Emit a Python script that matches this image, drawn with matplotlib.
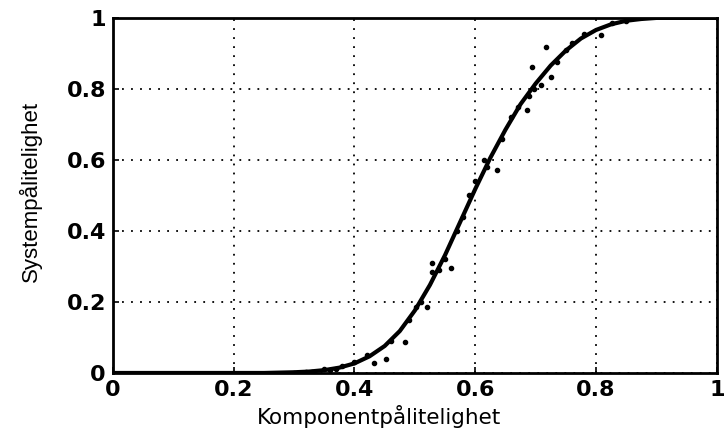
import numpy as np
import matplotlib
matplotlib.use("Agg")
import matplotlib.pyplot as plt

# Fitted curve
curve_x = [0.00, 0.25, 0.30, 0.325, 0.35, 0.375, 0.40, 0.425, 0.45, 0.475, 0.50, 0.525,
           0.55, 0.575, 0.60, 0.625, 0.65, 0.675, 0.70, 0.725, 0.75, 0.775, 0.80,
           0.825, 0.85, 0.875, 0.90, 1.00]
curve_y = [0.0, 0.0, 0.002, 0.004, 0.008, 0.015, 0.027, 0.047, 0.076, 0.118, 0.176, 0.248,
           0.332, 0.425, 0.518, 0.606, 0.685, 0.757, 0.815, 0.866, 0.908, 0.942, 0.966,
           0.982, 0.992, 0.997, 1.0, 1.0]

# Simulated observations (dots)
obs_x = [0.30, 0.32, 0.33, 0.35, 0.36, 0.37, 0.38, 0.40, 0.42, 0.433, 0.453, 0.46, 0.483,
         0.49, 0.502, 0.51, 0.52, 0.529, 0.529, 0.54, 0.55, 0.56, 0.57, 0.58, 0.59,
         0.60, 0.615, 0.62, 0.636, 0.645, 0.66, 0.67, 0.686, 0.689, 0.694, 0.697, 0.709,
         0.717, 0.726, 0.736, 0.75, 0.76, 0.78, 0.808, 0.826, 0.85]
obs_y = [0.0, 0.002, 0.003, 0.01, 0.008, 0.012, 0.02, 0.03, 0.05, 0.028, 0.039, 0.09, 0.087,
         0.15, 0.186, 0.2, 0.186, 0.31, 0.285, 0.29, 0.32, 0.296, 0.40, 0.44, 0.50,
         0.54, 0.60, 0.58, 0.572, 0.66, 0.72, 0.75, 0.741, 0.78, 0.862, 0.80, 0.811,
         0.918, 0.834, 0.876, 0.91, 0.93, 0.955, 0.952, 0.986, 0.99]

ticks = [0, 0.2, 0.4, 0.6, 0.8, 1]
tick_labels = ["0", "0.2", "0.4", "0.6", "0.8", "1"]

plt.rcParams['font.family'] = ['DejaVu Sans']

fig = plt.figure(figsize=(7.24, 4.37), dpi=100)
ax = fig.add_axes([0.156, 0.1465, 0.834, 0.8125])

ax.plot(obs_x, obs_y, '.', color='black', markersize=6)
ax.plot(curve_x, curve_y, '-', color='black', linewidth=3)

ax.set_xlim(0, 1)
ax.set_ylim(0, 1)
ax.set_xticks(ticks)
ax.set_yticks(ticks)
ax.set_xticklabels(tick_labels, fontsize=16, fontweight='bold')
ax.set_yticklabels(tick_labels, fontsize=16, fontweight='bold')
ax.tick_params(direction='in', length=4, width=1.2, pad=5)
ax.grid(True, linestyle=(0, (1, 4)), color='black', linewidth=1.3)
for s in ax.spines.values():
    s.set_linewidth(2)

ax.set_xlabel("Komponentpålitelighet", fontsize=15.5, labelpad=0)
ax.xaxis.set_label_coords(0.44, -0.09)
ax.set_ylabel("Systempålitelighet", fontsize=16, family='Liberation Sans')
ax.yaxis.set_label_coords(-0.118, 0.51)

fig.savefig("out.png", dpi=100)
